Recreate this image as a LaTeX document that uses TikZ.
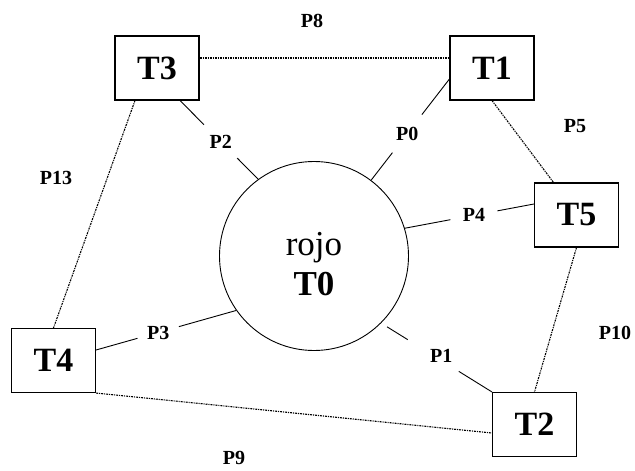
\documentclass[tikz,border=0pt]{standalone}
\usepackage{fontspec}
\setmainfont{Liberation Serif}
\begin{document}
\begin{tikzpicture}[x=1pt,y=-1pt,
  tbox/.style={draw, line width=1.1pt, minimum width=84pt, minimum height=64pt, inner sep=0pt, font=\fontsize{34}{36}\selectfont\bfseries},
  plab/.style={font=\fontsize{20}{22}\selectfont\bfseries, inner sep=0pt},
  gaplab/.style={plab, circle, fill=white, minimum size=46pt},
  solidc/.style={line width=0.9pt},
  dotc/.style={line width=1.1pt, dash pattern=on 2pt off 1pt on 1pt off 1pt}]
\useasboundingbox (0,0) rectangle (635,471);
% boxes
\node[tbox] (T3) at (157,68) {T3};
\node[tbox] (T1) at (492,68) {T1};
\node[tbox] (T5) at (576.5,215) {T5};
\node[tbox] (T4) at (53.5,360.5) {T4};
\node[tbox] (T2) at (534.5,424.5) {T2};
% central circle
\node[draw, circle, line width=0.9pt, minimum size=189pt, inner sep=0pt] (T0) at (314,256) {};
\node[anchor=base, inner sep=0pt, font=\fontsize{35}{36}\selectfont] (rojo) at (314,255) {rojo};
\node[anchor=base, inner sep=0pt, font=\fontsize{35}{36}\selectfont\bfseries] (T0lbl) at (314,295) {T0};
% solid connectors to the circle
\draw[solidc] ([xshift=23pt]T3.south) -- node[gaplab, pos=0.52, minimum size=47pt] (P2) {P2} (T0.126);
\draw[solidc] ([yshift=-11pt]T1.west) -- node[gaplab, pos=0.54, minimum size=48pt] (P0) {P0} (T0.53.5);
\draw[solidc] (T0.17.7) -- node[gaplab, pos=0.535, minimum size=48pt] (P4) {P4} ([yshift=11pt]T5.west);
\draw[solidc, shorten <=7pt] (T0.-45) -- node[gaplab, pos=0.47, minimum size=60pt] (P1) {\hspace*{16pt}P1} (T2.north west);
\draw[solidc] (T0.215) -- node[gaplab, pos=0.557, minimum size=43pt] (P3) {P3} ([yshift=10.5pt]T4.east);
% dotted connectors
\draw[dotc] ([yshift=10pt]T3.east) -- ([yshift=10pt]T1.west);
\draw[dotc] (T1.south) -- ([xshift=-23pt]T5.north);
\draw[dotc] (T5.south) -- (T2.north);
\draw[dotc] (T4.south east) -- ([yshift=-8.5pt]T2.west);
\draw[dotc] ([xshift=-22pt]T3.south) -- (T4.north);
% labels of dotted connectors
\node[plab] (P8) at (312,21) {P8};
\node[plab] (P5) at (575,126) {P5};
\node[plab] (P10) at (615,333) {P10};
\node[plab] (P9) at (234,458) {P9};
\node[plab] (P13) at (56,178) {P13};
\end{tikzpicture}
\end{document}
